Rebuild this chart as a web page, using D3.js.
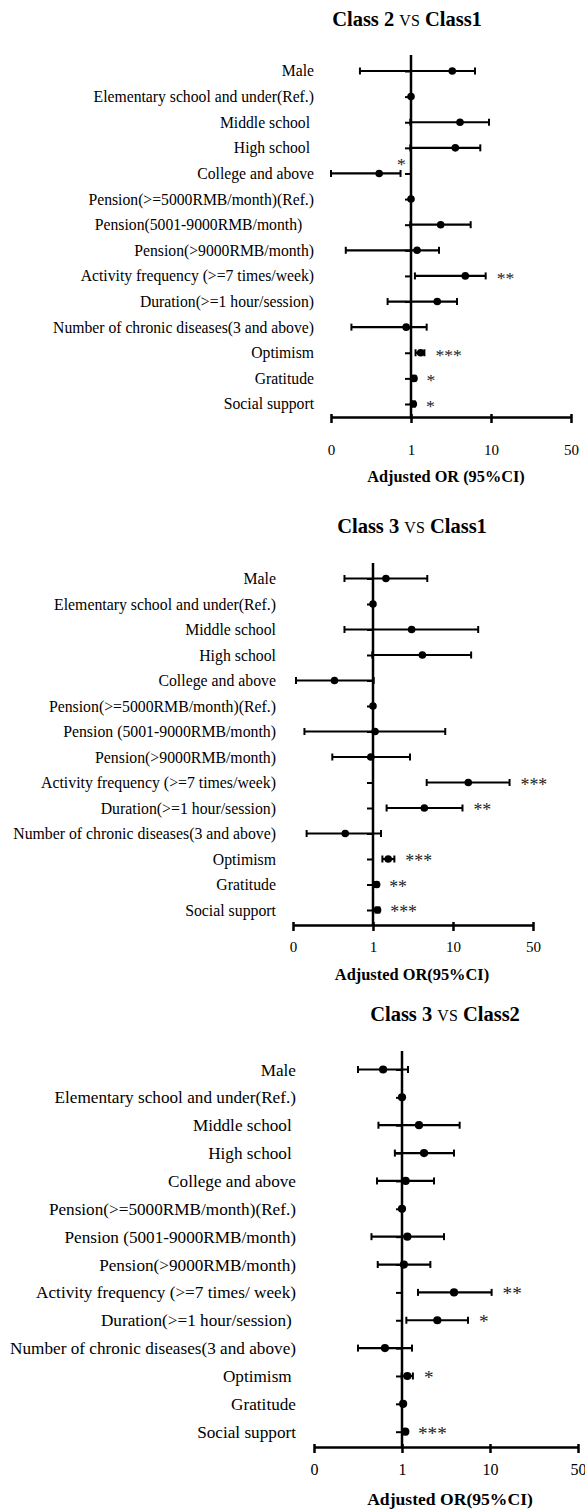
<!DOCTYPE html>
<html>
<head>
<meta charset="utf-8">
<script src="https://cdn.jsdelivr.net/npm/d3@7"></script>
<style>
body { margin: 0; background: #fff; }
svg text { font-family: 'Liberation Serif', 'Times New Roman', serif; }
</style>
</head>
<body>
<script>
// tick values on the broken log axis and how they are printed
var tickValues = [0.1, 1, 10, 50];
var tickLabels = ["0", "1", "10", "50"];

var titles = [["Class 2", "Class1"], ["Class 3", "Class1"], ["Class 3", "Class2"]];
var axisTitles = ["Adjusted OR (95%CI)", "Adjusted OR(95%CI)", "Adjusted OR(95%CI)"];

// Class 2 vs Class1
var labels1 = ["Male", "Elementary school and under(Ref.)", "Middle school ", "High school ",
  "College and above", "Pension(>=5000RMB/month)(Ref.)", "Pension(5001-9000RMB/month)   ",
  "Pension(>9000RMB/month)", "Activity frequency (>=7 times/week)", "Duration(>=1 hour/session)",
  "Number of chronic diseases(3 and above)", "Optimism", "Gratitude", "Social support"];
var or1 = [3.28, 1, 4.1, 3.58, 0.40, 1, 2.35, 1.19, 4.77, 2.13, 0.87, 1.32, 1.09, 1.07];
var lo1 = [0.23, null, 0.98, 0.98, 0.1, null, 0.98, 0.153, 1.12, 0.51, 0.18, 1.14, 1.04, 1.03];
var hi1 = [6.31, null, 9.44, 7.35, 0.74, null, 5.57, 2.24, 8.58, 3.76, 1.57, 1.47, 1.14, 1.12];
var sig1 = ["", "", "", "", "*", "", "", "", "**", "", "", "***", "*", "*"];

// Class 3 vs Class1
var labels2 = ["Male", "Elementary school and under(Ref.)", "Middle school", "High school",
  "College and above", "Pension(>=5000RMB/month)(Ref.)", "Pension (5001-9000RMB/month)",
  "Pension(>9000RMB/month)", "Activity frequency (>=7 times/week)", "Duration(>=1 hour/session)",
  "Number of chronic diseases(3 and above)", "Optimism", "Gratitude", "Social support"];
var or2 = [1.45, 1, 3.04, 4.14, 0.33, 1, 1.06, 0.94, 13.6, 4.38, 0.45, 1.55, 1.11, 1.14];
var lo2 = [0.44, null, 0.44, 0.98, 0.109, null, 0.139, 0.31, 4.69, 1.48, 0.148, 1.31, 1.06, 1.08];
var hi2 = [4.77, null, 16.6, 14.4, 1.02, null, 8.0, 2.9, 31.2, 12.1, 1.26, 1.85, 1.16, 1.20];
var sig2 = ["", "", "", "", "", "", "", "", "***", "**", "", "***", "**", "***"];

// Class 3 vs Class2
var labels3 = ["Male", "Elementary school and under(Ref.)", "Middle school ", "High school ",
  "College and above", "Pension(>=5000RMB/month)(Ref.)", "Pension (5001-9000RMB/month)",
  "Pension(>9000RMB/month)", "Activity frequency (>=7 times/ week)", "Duration(>=1 hour/session) ",
  "Number of chronic diseases(3 and above)", "Optimism ", "Gratitude", "Social support"];
var or3 = [0.61, 1, 1.56, 1.78, 1.10, 1, 1.15, 1.05, 3.9, 2.52, 0.64, 1.15, 1.03, 1.09];
var lo3 = [0.316, null, 0.54, 0.83, 0.52, null, 0.45, 0.53, 1.52, 1.12, 0.316, 0.99, 0.99, 1.02];
var hi3 = [1.17, null, 4.52, 3.9, 2.31, null, 3.0, 2.1, 10.3, 5.62, 1.30, 1.33, 1.06, 1.14];
var sig3 = ["", "", "", "", "", "", "", "", "**", "*", "", "*", "", "***"];

var width = 585, height = 1511;

var svg = d3.select("body").append("svg")
  .attr("width", width)
  .attr("height", height);

// layout of each panel (pixels)
var layout = [
  {x0: 331, step: 80, yTop: 55, first: 71, last: 404, axisY: 417, labelRight: 314, fs: 15.7,
   titleX: 407, titleY: 26, titleFs: 20.5, tickFs: 15, tickPad: 21,
   axTitleX: 446, axTitleY: 482, axFs: 16.3, r: 3.8},
  {x0: 293, step: 80, yTop: 563, first: 578.5, last: 910, axisY: 925, labelRight: 276, fs: 15.8,
   titleX: 412, titleY: 533, titleFs: 20.5, tickFs: 15, tickPad: 10,
   axTitleX: 412, axTitleY: 980, axFs: 16.4, r: 3.8},
  {x0: 314, step: 88, yTop: 1051, first: 1069.5, last: 1431.7, axisY: 1447, labelRight: 296, fs: 17.2,
   titleX: 445, titleY: 1021, titleFs: 20.5, tickFs: 16, tickPad: 11,
   axTitleX: 450, axTitleY: 1505, axFs: 17.6, r: 4.1}
];

var panels = [
  [labels1, or1, lo1, hi1, sig1],
  [labels2, or2, lo2, hi2, sig2],
  [labels3, or3, lo3, hi3, sig3]
];

panels.forEach(function(pd, k) {
  var p = layout[k];
  var labels = pd[0], ors = pd[1], los = pd[2], his = pd[3], sigs = pd[4];

  var xScale = d3.scaleLog()
    .domain(tickValues)
    .range(tickValues.map(function(d, i) { return p.x0 + i * p.step; }));

  var yScale = d3.scalePoint()
    .domain(d3.range(labels.length))
    .range([p.first, p.last]);

  var g = svg.append("g");

  // title
  var t = g.append("text")
    .attr("x", p.titleX)
    .attr("y", p.titleY)
    .attr("text-anchor", "middle")
    .attr("font-size", p.titleFs)
    .attr("font-weight", "bold");
  t.append("tspan").text(titles[k][0] + " ");
  t.append("tspan").attr("font-weight", "normal").attr("font-size", p.titleFs * 0.78).text("VS");
  t.append("tspan").text(" " + titles[k][1]);

  // row labels
  g.selectAll(".lbl")
    .data(labels)
    .enter()
    .append("text")
    .attr("class", "lbl")
    .attr("x", p.labelRight)
    .attr("y", function(d, i) { return yScale(i); })
    .attr("dy", "0.35em")
    .attr("text-anchor", "end")
    .attr("font-size", p.fs)
    .style("white-space", "pre")
    .text(function(d) { return d; });

  // category axis sitting on OR = 1
  var yAxis = d3.axisLeft(yScale).tickSize(6).tickSizeOuter(0).tickFormat("");
  var ya = g.append("g")
    .attr("transform", "translate(" + xScale(1) + ",0)")
    .call(yAxis);
  ya.select(".domain").remove();
  ya.selectAll(".tick line").attr("stroke", "#000").attr("stroke-width", 2);

  g.append("line")
    .attr("x1", xScale(1)).attr("x2", xScale(1))
    .attr("y1", p.yTop).attr("y2", p.axisY)
    .attr("stroke", "#000")
    .attr("stroke-width", 2.5);

  var rows = d3.range(labels.length).filter(function(i) { return los[i] != null; });

  // confidence intervals
  g.selectAll(".ci")
    .data(rows)
    .enter()
    .append("line")
    .attr("x1", function(i) { return xScale(los[i]); })
    .attr("x2", function(i) { return xScale(his[i]); })
    .attr("y1", function(i) { return yScale(i); })
    .attr("y2", function(i) { return yScale(i); })
    .attr("stroke", "#000")
    .attr("stroke-width", 2.2);

  [los, his].forEach(function(arr) {
    g.selectAll(null)
      .data(rows)
      .enter()
      .append("line")
      .attr("x1", function(i) { return xScale(arr[i]); })
      .attr("x2", function(i) { return xScale(arr[i]); })
      .attr("y1", function(i) { return yScale(i) - 3.5; })
      .attr("y2", function(i) { return yScale(i) + 3.5; })
      .attr("stroke", "#000")
      .attr("stroke-width", 2);
  });

  // point estimates
  g.selectAll(".pt")
    .data(ors)
    .enter()
    .append("circle")
    .attr("cx", function(d) { return xScale(d); })
    .attr("cy", function(d, i) { return yScale(i); })
    .attr("r", p.r)
    .attr("fill", "#000");

  // significance stars
  g.selectAll(".sig")
    .data(d3.range(labels.length).filter(function(i) { return sigs[i] !== ""; }))
    .enter()
    .append("text")
    .attr("x", function(i) {
      var h = his[i] != null ? his[i] : ors[i];
      return h < 1 ? xScale(h) + 1 : xScale(h) + 11;
    })
    .attr("y", function(i) {
      var h = his[i] != null ? his[i] : ors[i];
      return h < 1 ? yScale(i) - 3 : yScale(i) + 8;
    })
    .attr("text-anchor", function(i) { return his[i] < 1 ? "middle" : "start"; })
    .attr("font-size", p.fs + 2)
    .attr("fill", "#222")
    .text(function(i) { return sigs[i]; });

  // OR axis
  var xAxis = d3.axisBottom(xScale)
    .tickValues(tickValues)
    .tickFormat(function(d, i) { return tickLabels[i]; })
    .tickSize(6)
    .tickSizeOuter(0)
    .tickPadding(p.tickPad);
  var xa = g.append("g")
    .attr("transform", "translate(0," + p.axisY + ")")
    .call(xAxis);
  xa.attr("font-size", p.tickFs);
  xa.select(".domain").attr("stroke", "#000").attr("stroke-width", 2.5);
  xa.selectAll(".tick line").attr("stroke", "#000").attr("stroke-width", 2.5).attr("y1", -3);
  xa.selectAll(".tick text").attr("fill", "#000");

  g.append("text")
    .attr("x", p.axTitleX)
    .attr("y", p.axTitleY)
    .attr("text-anchor", "middle")
    .attr("font-size", p.axFs)
    .attr("font-weight", "bold")
    .text(axisTitles[k]);
});
</script>
</body>
</html>
